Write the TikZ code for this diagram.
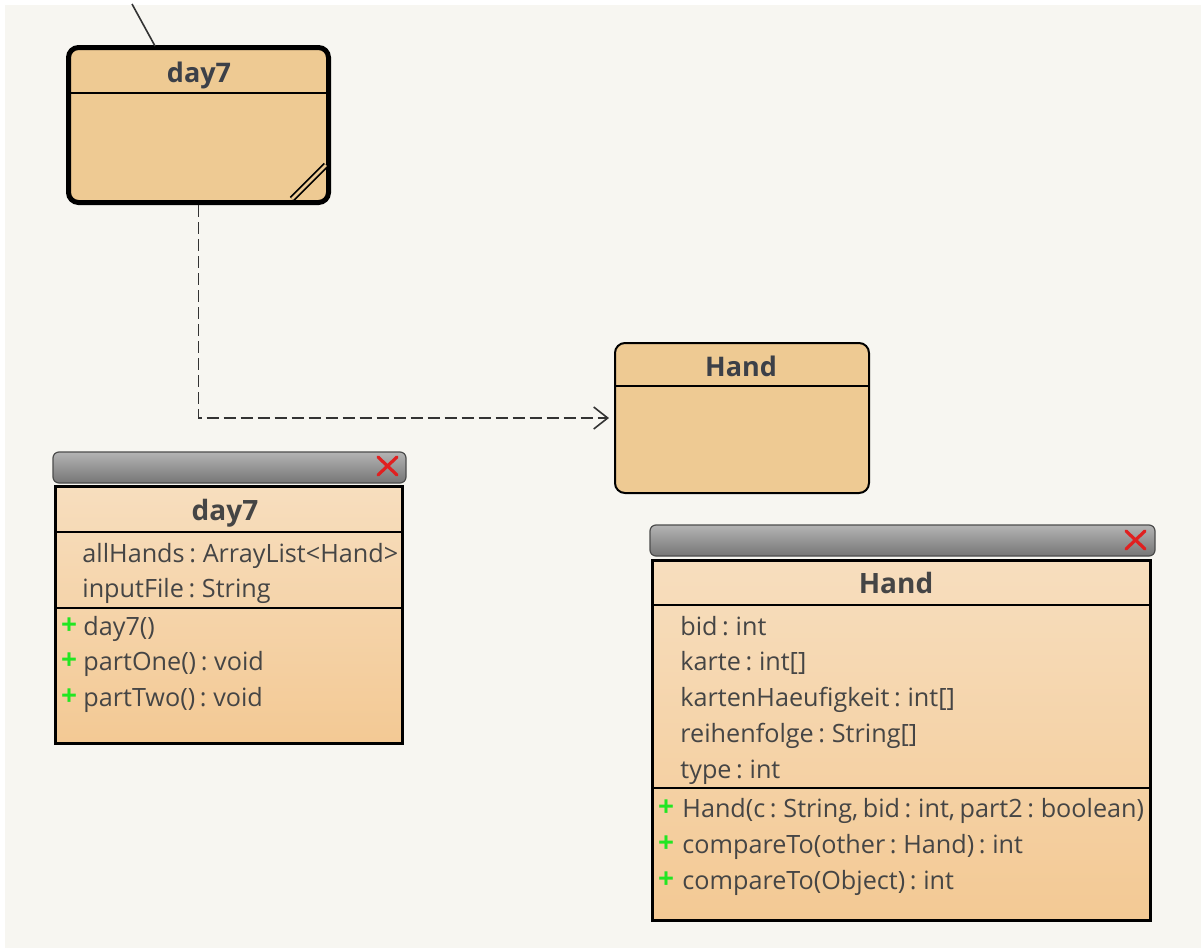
\documentclass[tikz,border=0pt]{standalone}
\usepackage{fontspec}
\setmainfont{Open Sans}[WordSpace=0.7]
\usetikzlibrary{arrows.meta,calc}
\definecolor{bg}{HTML}{F7F6F1}
\definecolor{statefill}{HTML}{EECA93}
\definecolor{ctop}{HTML}{F7DEBE}
\definecolor{cbot}{HTML}{F3C994}
\definecolor{txt}{HTML}{454545}
\definecolor{ttl}{HTML}{3C4048}
\definecolor{plusg}{HTML}{22E622}
\definecolor{xred}{HTML}{E02020}
\definecolor{tbtop}{HTML}{B4B4B4}
\definecolor{tbmid}{HTML}{959595}
\definecolor{tbbot}{HTML}{767676}
\tikzset{
  statebox/.style={rounded corners=5pt, fill=statefill, draw=black, inner sep=0pt},
  classbox/.style={top color=ctop, bottom color=cbot, draw=black, line width=1.5pt, inner sep=0pt},
  titlebar/.style={rounded corners=3pt, draw=gray!60!black, line width=0.6pt,
     top color=tbtop, bottom color=tbbot, middle color=tbmid},
  sttitle/.style={font=\bfseries\fontsize{13.5}{16}\selectfont, text=ttl, inner sep=0pt, anchor=base},
  cltitle/.style={font=\bfseries\fontsize{14}{16}\selectfont, text=txt, inner sep=0pt, anchor=base},
  member/.style={font=\fontsize{12.6}{15}\selectfont, text=txt, inner sep=0pt, anchor=base west},
  plus/.style={font=\bfseries\fontsize{14}{15}\selectfont, text=plusg, inner sep=0pt, anchor=base},
  sep/.style={draw=black, line width=0.9pt},
  closex/.style={draw=xred, line width=1.6pt, line cap=round},
}
\begin{document}
\begin{tikzpicture}[x=0.5pt,y=-0.5pt]
\useasboundingbox (0,0) rectangle (1201,948);
\fill[white] (0,0) rectangle (1201,948);
\fill[bg] (5,5) rectangle (1201,948);

% ---------- state box day7 ----------
\node[statebox, line width=2.5pt, minimum width=130pt, minimum height=77.5pt] (d7s) at (198.5,125) {};
\draw[line width=1pt] ($(d7s.north west)+(0,48)$) -- ($(d7s.north east)+(0,48)$);
\node[sttitle] (d7st) at (199,82) {day7};
\draw[line width=0.9pt, double=statefill, double distance=1.3pt] (292,199) -- (326,165);
\coordinate (topc) at (132,4);
\coordinate (topend) at (155,46);
\draw[line width=0.8pt, draw=black!80] (topc) -- (topend);

% ---------- state box Hand ----------
\node[statebox, line width=1pt, minimum width=127pt, minimum height=75pt] (hs) at (742,418) {};
\draw[line width=0.8pt] ($(hs.north west)+(0,44)$) -- ($(hs.north east)+(0,44)$);
\node[sttitle] (hst) at (741,376) {Hand};

% ---------- dependency ----------
\draw[dashed, dash pattern=on 6pt off 2.5pt, line width=0.7pt, draw=black!80,
      -{Straight Barb[length=7pt,width=11pt,line width=0.8pt]}, shorten >=2.5pt]
  (d7s.south) |- (hs.west);

% ---------- class window day7 ----------
\shade[titlebar] (53,452) rectangle (406,483);
\draw[closex] (378,457) -- (397,475) (397,457) -- (378,475);
\node[classbox, minimum width=173.5pt, minimum height=128.5pt] (d7c) at (228.5,614.5) {};
\draw[sep] (55,532) -- (402,532);
\draw[sep] (55,608) -- (402,608);
\node[cltitle] (d7ct) at (225,520) {day7};
\node[member] (a1) at (82,562) {allHands : ArrayList<Hand>};
\node[member] (a2) at (82,597) {inputFile : String};
\node[plus] (p1) at (69,634) {+};
\node[member] (m1) at (83,635) {day7()};
\node[plus] (p2) at (69,669) {+};
\node[member] (m2) at (83,670) {partOne() : void};
\node[plus] (p3) at (69,705) {+};
\node[member] (m3) at (83,706) {partTwo() : void};

% ---------- class window Hand ----------
\shade[titlebar] (650,525) rectangle (1155,556);
\draw[closex] (1126,531) -- (1145,549) (1145,531) -- (1126,549);
\node[classbox, minimum width=249pt, minimum height=180pt] (hc) at (901,740) {};
\draw[sep] (652,605) -- (1150,605);
\draw[sep] (652,788) -- (1150,788);
\node[cltitle] (hct) at (896,593) {Hand};
\node[member] (b1) at (680,635) {bid : int};
\node[member] (b2) at (680,670) {karte : int[]};
\node[member] (b3) at (680,706) {kartenHaeufigkeit : int[]};
\node[member] (b4) at (680,742) {reihenfolge : String[]};
\node[member] (b5) at (680,778) {type : int};
\node[plus] (q1) at (666,816) {+};
\node[member] (n1) at (682,817) {Hand(c : String, bid : int, part2 : boolean)};
\node[plus] (q2) at (666,852) {+};
\node[member] (n2) at (682,853) {compareTo(other : Hand) : int};
\node[plus] (q3) at (666,888) {+};
\node[member] (n3) at (682,889) {compareTo(Object) : int};
\end{tikzpicture}
\end{document}
